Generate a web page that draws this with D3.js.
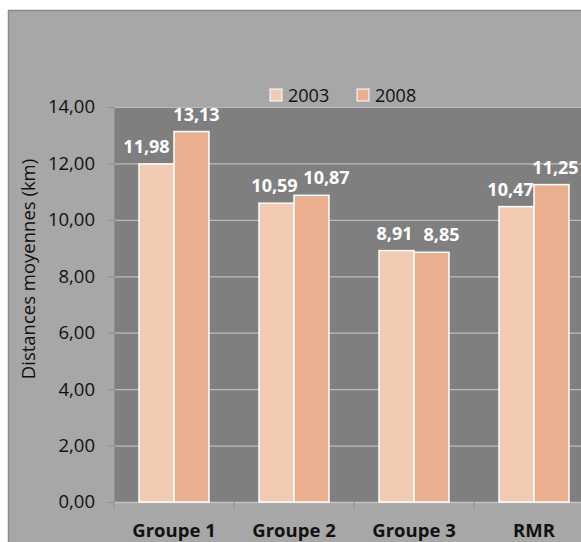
<!DOCTYPE html>
<html><head><meta charset="utf-8">
<script src="https://cdn.jsdelivr.net/npm/d3@7/dist/d3.min.js"></script>
<style>body{margin:0;background:#fff;overflow:hidden}svg{display:block}</style>
</head><body>
<script>
const categories = ["Groupe 1", "Groupe 2", "Groupe 3", "RMR"];
const seriesNames = ["2003", "2008"];
const values2003 = [11.98, 10.59, 8.91, 10.47];
const values2008 = [13.13, 10.87, 8.85, 11.25];
const yTicks = [0, 2, 4, 6, 8, 10, 12, 14];
const colors = ["#f1cbb2", "#ebb08f"];
const yTitle = "Distances moyennes (km)";

// layout: horizontal nudges of value labels (to avoid overlaps, as in the reference)
const labelNudge = [[-10, 5], [-2, 15], [-2, 10], [-6, 4]];

const W = 581, H = 542;
const font = "'Open Sans', sans-serif";
const svg = d3.select("body").append("svg").attr("width", W).attr("height", H);

// outer chart area
svg.append("rect").attr("x", 8.5).attr("y", 10.5).attr("width", 600).attr("height", 600)
  .attr("fill", "#a6a7a6").attr("stroke", "#8a8a8a").attr("stroke-width", 1.5);

const plot = {left: 114, right: 594, top: 107, bottom: 502};
const x = d3.scaleBand().domain(categories).range([plot.left, plot.right]).paddingInner(0).paddingOuter(0);
const y = d3.scaleLinear().domain([0, 14]).range([plot.bottom, plot.top]);
const groupPad = 25;
const xs = d3.scaleBand().domain(seriesNames).range([groupPad, x.bandwidth() - groupPad]);

svg.append("rect").attr("x", plot.left).attr("y", plot.top)
  .attr("width", plot.right - plot.left).attr("height", plot.bottom - plot.top).attr("fill", "#7f7f7f");

// grid
svg.append("g").selectAll("line").data(yTicks.filter(d => d > 0)).join("line")
  .attr("x1", plot.left).attr("x2", plot.right)
  .attr("y1", d => y(d) + 0.5).attr("y2", d => y(d) + 0.5)
  .attr("stroke", "#bdbdbd").attr("stroke-width", 1.2);

// y axis
const yAxis = d3.axisLeft(y).tickValues(yTicks).tickSize(7).tickPadding(12)
  .tickFormat(d => d3.format(".2f")(d).replace(".", ","));
const gy = svg.append("g").attr("transform", `translate(${plot.left},0)`).call(yAxis);
gy.select(".domain").attr("stroke", "#8f8f8f").attr("stroke-width", 1);
gy.selectAll(".tick line").attr("stroke", "#8f8f8f");
gy.selectAll("text").attr("font-family", font).attr("font-size", 18.5).attr("fill", "#111");

// x axis
const xAxis = d3.axisBottom(x).tickSize(0).tickPadding(22);
const gx = svg.append("g").attr("transform", `translate(0,${plot.bottom})`).call(xAxis);
gx.select(".domain").attr("stroke", "#c4c4c4").attr("stroke-width", 1.5);
gx.selectAll("text").attr("font-family", font).attr("font-size", 18.5).attr("font-weight", "bold").attr("fill", "#111");
gx.append("g").selectAll("line").data(categories.concat(["_end"])).join("line")
  .attr("x1", (d, i) => plot.left + i * x.step()).attr("x2", (d, i) => plot.left + i * x.step())
  .attr("y1", 0).attr("y2", 7).attr("stroke", "#8f8f8f");

// bars
const data = categories.map((c, i) => ({cat: c, i, vals: [values2003[i], values2008[i]]}));
const groups = svg.append("g").selectAll("g").data(data).join("g")
  .attr("transform", d => `translate(${x(d.cat)},0)`);
groups.selectAll("rect").data(d => d.vals.map((v, j) => ({s: seriesNames[j], v, j}))).join("rect")
  .attr("x", d => xs(d.s)).attr("width", xs.bandwidth())
  .attr("y", d => y(d.v)).attr("height", d => y(0) - y(d.v))
  .attr("fill", d => colors[d.j]).attr("stroke", "#fff").attr("stroke-width", 1.5);
groups.selectAll("text").data(d => d.vals.map((v, j) => ({s: seriesNames[j], v, j, i: d.i}))).join("text")
  .attr("x", d => xs(d.s) + xs.bandwidth() / 2 + labelNudge[d.i][d.j]).attr("y", d => y(d.v) - 11)
  .attr("text-anchor", "middle").attr("font-family", font).attr("font-size", 18)
  .attr("font-weight", "bold").attr("fill", "#fff")
  .text(d => d3.format(".2f")(d.v).replace(".", ","));

// legend
const legendX = [270, 357];
const lg = svg.append("g").selectAll("g").data(seriesNames).join("g")
  .attr("transform", (d, i) => `translate(${legendX[i]},89)`);
lg.append("rect").attr("width", 12).attr("height", 12).attr("fill", (d, i) => colors[i])
  .attr("stroke", "#fff").attr("stroke-width", 1);
lg.append("text").attr("x", 18).attr("y", 12.5).attr("font-family", font).attr("font-size", 18)
  .attr("fill", "#111").text(d => d);

// y title
svg.append("text").attr("transform", "translate(35,269) rotate(-90)")
  .attr("text-anchor", "middle").attr("font-family", font).attr("font-size", 18.5)
  .attr("fill", "#111").text(yTitle);
</script>
</body></html>
